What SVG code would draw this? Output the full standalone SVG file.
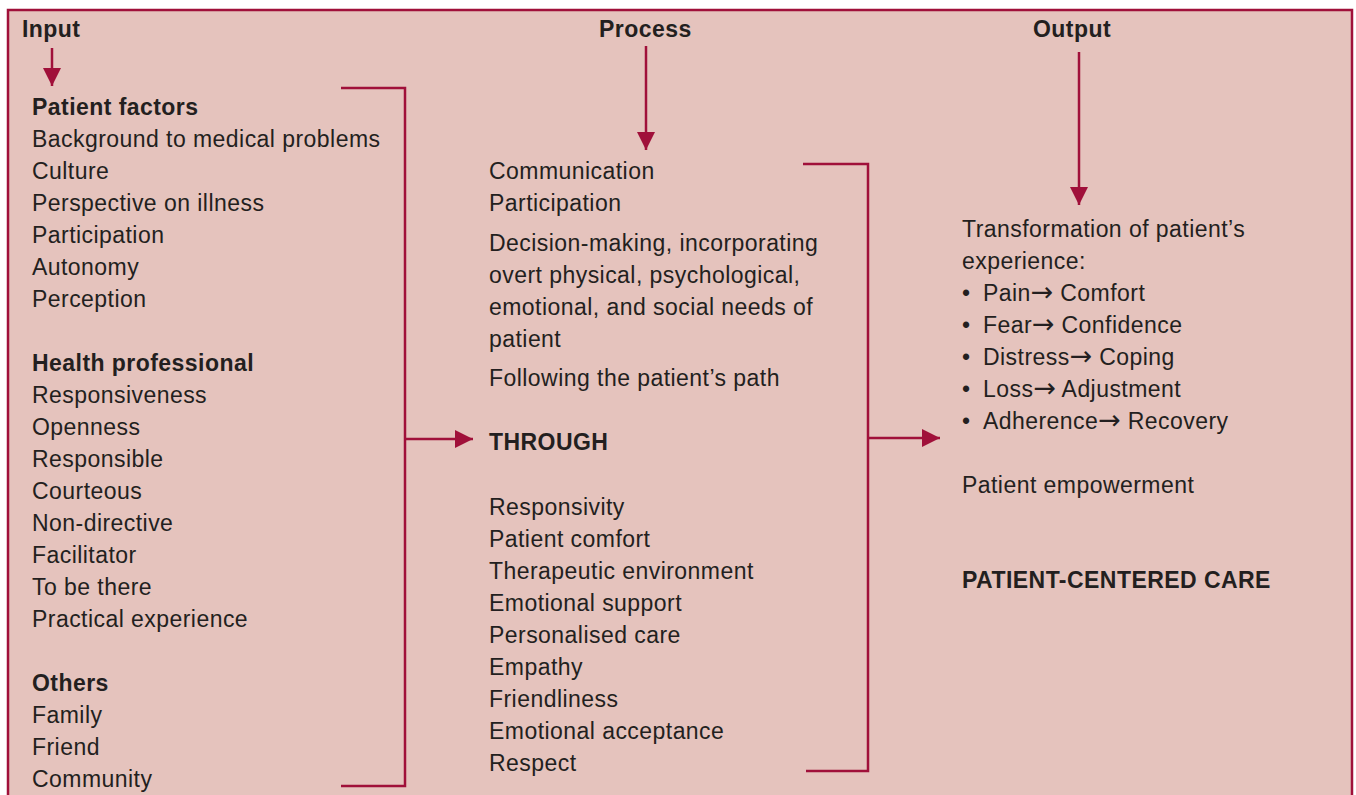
<svg xmlns="http://www.w3.org/2000/svg" width="1356" height="795" viewBox="0 0 1356 795">
<defs>
<style>
.t{font-family:"Liberation Sans",Arial,sans-serif;font-size:23px;letter-spacing:0.45px;fill:#231f20}
.b{font-weight:bold}
.ar{font-family:"DejaVu Sans",sans-serif;font-size:27px;letter-spacing:0}
.ln{stroke:#a0103a;stroke-width:2.5;fill:none}
</style>
<marker id="ah" viewBox="0 0 10 10" refX="10" refY="5" markerWidth="18" markerHeight="18" markerUnits="userSpaceOnUse" orient="auto">
<path d="M0,0 L10,5 L0,10 Z" fill="#a0103a"/>
</marker>
</defs>
<rect x="0" y="0" width="1356" height="795" fill="#ffffff"/>
<rect x="8" y="10" width="1344" height="800" fill="#e5c3bd" stroke="#a0103a" stroke-width="2.5"/>
<g id="connectors">
<line class="ln" x1="52" y1="48" x2="52" y2="86" marker-end="url(#ah)"/>
<line class="ln" x1="646" y1="46" x2="646" y2="150" marker-end="url(#ah)"/>
<line class="ln" x1="1079" y1="52" x2="1079" y2="205" marker-end="url(#ah)"/>
<polyline class="ln" points="341,88 405,88 405,786 341,786"/>
<line class="ln" x1="405" y1="439" x2="473" y2="439" marker-end="url(#ah)"/>
<polyline class="ln" points="803,164 868,164 868,771 806,771"/>
<line class="ln" x1="868" y1="438" x2="940" y2="438" marker-end="url(#ah)"/>
</g>
<g id="headers">
<text class="t b" x="22" y="37">Input</text>
<text class="t b" x="599" y="37">Process</text>
<text class="t b" x="1033" y="37">Output</text>
</g>
<g id="input">
<text class="t b" x="32" y="115">Patient factors</text>
<text class="t" x="32" y="147">Background to medical problems</text>
<text class="t" x="32" y="179">Culture</text>
<text class="t" x="32" y="211">Perspective on illness</text>
<text class="t" x="32" y="243">Participation</text>
<text class="t" x="32" y="275">Autonomy</text>
<text class="t" x="32" y="307">Perception</text>
<text class="t b" x="32" y="371">Health professional</text>
<text class="t" x="32" y="403">Responsiveness</text>
<text class="t" x="32" y="435">Openness</text>
<text class="t" x="32" y="467">Responsible</text>
<text class="t" x="32" y="499">Courteous</text>
<text class="t" x="32" y="531">Non-directive</text>
<text class="t" x="32" y="563">Facilitator</text>
<text class="t" x="32" y="595">To be there</text>
<text class="t" x="32" y="627">Practical experience</text>
<text class="t b" x="32" y="691">Others</text>
<text class="t" x="32" y="723">Family</text>
<text class="t" x="32" y="755">Friend</text>
<text class="t" x="32" y="787">Community</text>
</g>
<g id="process">
<text class="t" x="489" y="179">Communication</text>
<text class="t" x="489" y="211">Participation</text>
<text class="t" x="489" y="251">Decision-making, incorporating</text>
<text class="t" x="489" y="283">overt physical, psychological,</text>
<text class="t" x="489" y="315">emotional, and social needs of</text>
<text class="t" x="489" y="347">patient</text>
<text class="t" x="489" y="386">Following the patient’s path</text>
<text class="t b" x="489" y="450">THROUGH</text>
<text class="t" x="489" y="515">Responsivity</text>
<text class="t" x="489" y="547">Patient comfort</text>
<text class="t" x="489" y="579">Therapeutic environment</text>
<text class="t" x="489" y="611">Emotional support</text>
<text class="t" x="489" y="643">Personalised care</text>
<text class="t" x="489" y="675">Empathy</text>
<text class="t" x="489" y="707">Friendliness</text>
<text class="t" x="489" y="739">Emotional acceptance</text>
<text class="t" x="489" y="771">Respect</text>
</g>
<g id="output">
<text class="t" x="962" y="237">Transformation of patient’s</text>
<text class="t" x="962" y="269">experience:</text>
<text class="t" x="962" y="301">•</text><text class="t" x="983" y="301">Pain<tspan class="ar">→</tspan> Comfort</text>
<text class="t" x="962" y="333">•</text><text class="t" x="983" y="333">Fear<tspan class="ar">→</tspan> Confidence</text>
<text class="t" x="962" y="365">•</text><text class="t" x="983" y="365">Distress<tspan class="ar">→</tspan> Coping</text>
<text class="t" x="962" y="397">•</text><text class="t" x="983" y="397">Loss<tspan class="ar">→</tspan> Adjustment</text>
<text class="t" x="962" y="429">•</text><text class="t" x="983" y="429">Adherence<tspan class="ar">→</tspan> Recovery</text>
<text class="t" x="962" y="493">Patient empowerment</text>
<text class="t b" x="962" y="588">PATIENT-CENTERED CARE</text>
</g>
</svg>
